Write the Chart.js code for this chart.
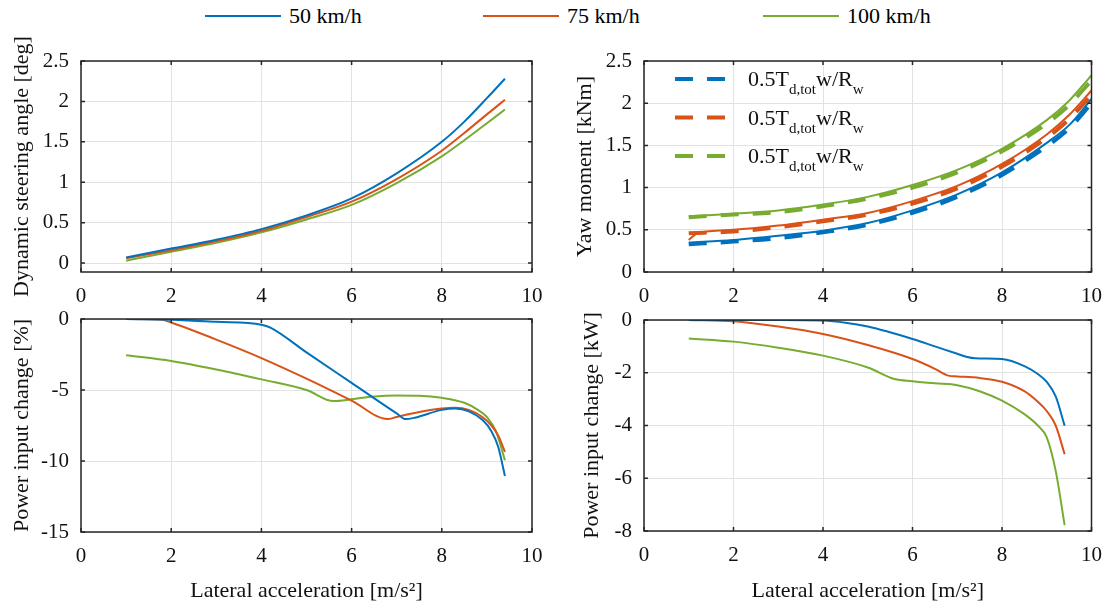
<!DOCTYPE html>
<html lang="en">
<head>
<meta charset="UTF-8">
<title>Lateral acceleration sweep</title>
<script src="https://cdn.jsdelivr.net/npm/chart.js@4"></script>
<style>
  html, body { margin: 0; padding: 0; background: #fff; }
  #wrap { position: relative; width: 1114px; height: 609px; overflow: hidden; font-family: "Liberation Serif", "Times New Roman", serif; }
  #wrap canvas { position: absolute; left: 0; top: 0; }
  .key { position: absolute; top: 3px; height: 26px; display: flex; align-items: center; font-size: 22px; color: #000; white-space: nowrap; font-family: "Liberation Serif", serif; }
  .key .swatch { display: inline-block; width: 76px; height: 2px; margin-right: 8px; }
</style>
</head>
<body>
<div id="wrap">
  <div id="keys"></div>
  <canvas id="steer" width="1114" height="609"></canvas>
  <canvas id="yaw" width="1114" height="609"></canvas>
  <canvas id="pct" width="1114" height="609"></canvas>
  <canvas id="kw" width="1114" height="609"></canvas>
</div>

<script>
  // series names / colours
  const speeds = ['50 km/h', '75 km/h', '100 km/h'];
  const colors = ['#0072BD', '#D95319', '#77AC30'];
  const keyLeft = [205, 483, 763];

  // shared x ticks (lateral acceleration, m/s^2)
  const xTicks = [0, 2, 4, 6, 8, 10];

  // dynamic steering angle [deg]
  const steerX = [1, 2, 3, 4, 5, 6, 7, 8, 8.5, 9, 9.4];
  const steer50 = [0.07, 0.18, 0.29, 0.42, 0.59, 0.80, 1.11, 1.50, 1.75, 2.04, 2.28];
  const steer75 = [0.06, 0.16, 0.27, 0.40, 0.57, 0.76, 1.04, 1.39, 1.61, 1.84, 2.02];
  const steer100 = [0.03, 0.14, 0.25, 0.38, 0.54, 0.72, 0.99, 1.32, 1.52, 1.73, 1.90];
  const steerTicks = [0, 0.5, 1, 1.5, 2, 2.5];

  // yaw moment [kNm], solid = simulated, dashed = 0.5 T_d,tot w / R_w
  const yawX = [1, 2, 3, 4, 5, 6, 7, 8, 9, 9.5, 10];
  const yawX75 = [1, 1.2, 2, 3, 4, 5, 6, 7, 8, 9, 9.5, 10];
  const yaw50 = [0.35, 0.38, 0.43, 0.49, 0.58, 0.73, 0.92, 1.18, 1.53, 1.74, 2.05];
  const yaw75 = [0.38, 0.46, 0.50, 0.55, 0.62, 0.70, 0.84, 1.02, 1.28, 1.63, 1.86, 2.15];
  const yaw100 = [0.66, 0.69, 0.73, 0.80, 0.89, 1.03, 1.21, 1.46, 1.80, 2.03, 2.33];
  const yawRef50 = [0.33, 0.36, 0.40, 0.47, 0.56, 0.70, 0.89, 1.15, 1.49, 1.70, 2.00];
  const yawRef75 = [0.46, 0.48, 0.53, 0.60, 0.68, 0.81, 0.99, 1.25, 1.59, 1.81, 2.10];
  const yawRef100 = [0.65, 0.68, 0.71, 0.78, 0.87, 1.00, 1.18, 1.43, 1.76, 1.98, 2.27];
  const yawTicks = [0, 0.5, 1, 1.5, 2, 2.5];
  const refLabel = [['0.5T', false], ['d,tot', true], ['w/R', false], ['w', true]];

  // power input change [%]
  const pctX50 = [1, 2, 3, 4, 4.2, 5, 6, 7, 7.2, 7.4, 8, 8.3, 8.6, 8.9, 9.1, 9.25, 9.4];
  const pct50 = [0, -0.05, -0.2, -0.4, -0.6, -2.35, -4.5, -6.65, -7.05, -6.95, -6.4, -6.3, -6.5, -7.1, -7.9, -9.0, -11.05];
  const pctX75 = [1, 1.8, 2, 3, 4, 5, 6, 6.8, 7, 7.5, 8, 8.3, 8.6, 8.9, 9.1, 9.25, 9.4];
  const pct75 = [0, -0.05, -0.25, -1.45, -2.75, -4.2, -5.75, -7.05, -6.9, -6.55, -6.3, -6.25, -6.4, -6.9, -7.5, -8.2, -9.35];
  const pctX100 = [1, 2, 3, 4, 5, 5.6, 6, 6.5, 7, 7.5, 8, 8.5, 8.8, 9, 9.2, 9.4];
  const pct100 = [-2.55, -2.95, -3.55, -4.25, -5.0, -5.78, -5.65, -5.45, -5.38, -5.4, -5.55, -5.9, -6.4, -6.9, -7.9, -9.95];
  const pctTicks = [-15, -10, -5, 0];

  // power input change [kW]
  const kwX50 = [1, 2, 3, 4, 4.5, 5, 6, 6.5, 7, 7.2, 7.4, 8, 8.5, 8.8, 9, 9.2, 9.4];
  const kw50 = [0, 0, 0, -0.02, -0.1, -0.25, -0.72, -1.0, -1.28, -1.39, -1.45, -1.48, -1.75, -2.05, -2.35, -2.9, -4.01];
  const kwX75 = [1, 2, 3, 4, 5, 6, 6.5, 6.8, 7, 7.5, 8, 8.5, 8.8, 9, 9.2, 9.4];
  const kw75 = [0, -0.05, -0.25, -0.53, -0.95, -1.48, -1.85, -2.11, -2.14, -2.2, -2.34, -2.7, -3.1, -3.45, -4.0, -5.09];
  const kwX100 = [1, 2, 3, 4, 5, 5.6, 6, 6.5, 7, 7.5, 8, 8.5, 8.8, 9, 9.2, 9.4];
  const kw100 = [-0.7, -0.82, -1.05, -1.35, -1.8, -2.24, -2.32, -2.4, -2.47, -2.7, -3.06, -3.57, -4.0, -4.45, -5.72, -7.78];
  const kwTicks = [-8, -6, -4, -2, 0];

  const W = 1114, H = 609;
  const FONT = '"Liberation Serif", "Times New Roman", serif';
  const INK = '#111';

  // top legend, one entry per speed
  document.getElementById('keys').innerHTML = speeds.map((s, i) =>
    `<div class="key" style="left:${keyLeft[i]}px"><span class="swatch" style="background:${colors[i]}"></span>${s}</div>`
  ).join('');

  const pts = (xs, ys) => xs.map((x, i) => ({ x, y: ys[i] }));

  const solid = (xs, ys, i) => ({
    data: pts(xs, ys), borderColor: colors[i], borderWidth: 2,
    pointRadius: 0, fill: false, cubicInterpolationMode: 'monotone'
  });

  const dashed = (xs, ys, i) => ({
    data: pts(xs, ys), borderColor: colors[i], borderWidth: 4, borderDash: [18, 14],
    pointRadius: 0, fill: false, cubicInterpolationMode: 'monotone', keyRow: i
  });

  // frame around the plot area with inward tick marks
  const boxPlugin = {
    id: 'box',
    afterDraw(chart) {
      const { ctx, chartArea: a, scales: { x, y } } = chart;
      ctx.save();
      ctx.strokeStyle = '#262626';
      ctx.lineWidth = 1.5;
      ctx.beginPath();
      x.ticks.forEach(t => {
        const px = x.getPixelForValue(t.value);
        ctx.moveTo(px, a.bottom); ctx.lineTo(px, a.bottom - 4);
        ctx.moveTo(px, a.top); ctx.lineTo(px, a.top + 4);
      });
      y.ticks.forEach(t => {
        const py = y.getPixelForValue(t.value);
        ctx.moveTo(a.left, py); ctx.lineTo(a.left + 4, py);
        ctx.moveTo(a.right, py); ctx.lineTo(a.right - 4, py);
      });
      ctx.stroke();
      ctx.strokeRect(a.left, a.top, a.right - a.left, a.bottom - a.top);
      ctx.restore();
    }
  };

  // in-plot legend for the dashed reference curves
  const yawKey = {
    id: 'yawKey',
    afterDatasetsDraw(chart) {
      const { ctx, chartArea: a } = chart;
      chart.data.datasets.filter(d => d.keyRow !== undefined).forEach(d => {
        const y = a.top + 18 + d.keyRow * 38.5;
        const x0 = a.left + 31;
        ctx.save();
        ctx.strokeStyle = d.borderColor;
        ctx.lineWidth = d.borderWidth;
        ctx.setLineDash(d.borderDash);
        ctx.beginPath();
        ctx.moveTo(x0, y);
        ctx.lineTo(x0 + 51, y);
        ctx.stroke();
        ctx.setLineDash([]);
        ctx.fillStyle = INK;
        ctx.textBaseline = 'alphabetic';
        let x = a.left + 104;
        const base = y + 7;
        refLabel.forEach(([txt, sub]) => {
          ctx.font = (sub ? '15px ' : '22px ') + FONT;
          ctx.fillText(txt, x, sub ? base + 8 : base);
          x += ctx.measureText(txt).width;
        });
        ctx.restore();
      });
    }
  };

  function panel(id, p) {
    const padLeft = p.titleX - 13;
    const xAxisH = p.xTitle ? H - p.bottom : 40;
    const tickFont = { family: FONT, size: 21 };
    const titleFont = { family: FONT, size: 22 };
    const grid = { color: '#e2e2e2', lineWidth: 1, drawTicks: false };

    return new Chart(document.getElementById(id), {
      type: 'line',
      data: { datasets: p.datasets },
      options: {
        responsive: false,
        animation: false,
        events: [],
        layout: {
          padding: { left: padLeft, top: p.top, right: W - p.right, bottom: H - p.bottom - xAxisH }
        },
        plugins: { legend: { display: false }, tooltip: { enabled: false } },
        scales: {
          x: {
            type: 'linear', min: 0, max: 10,
            afterBuildTicks: s => { s.ticks = xTicks.map(v => ({ value: v })); },
            afterFit: s => { s.height = xAxisH; },
            grid, border: { display: false },
            ticks: { font: tickFont, color: INK, padding: 12, maxRotation: 0, autoSkip: false, callback: v => String(v) },
            title: { display: !!p.xTitle, text: p.xTitle || '', font: titleFont, color: INK, padding: { top: 0, bottom: 5 } }
          },
          y: {
            type: 'linear', min: p.yMin, max: p.yMax,
            afterBuildTicks: s => { s.ticks = p.yTicks.map(v => ({ value: v })); },
            afterFit: s => { s.width = p.left - padLeft; },
            grid, border: { display: false },
            ticks: { font: tickFont, color: INK, padding: 12, autoSkip: false, callback: v => String(v) },
            title: { display: true, text: p.yTitle, font: titleFont, color: INK, padding: 0 }
          }
        }
      },
      plugins: [boxPlugin].concat(p.extra || [])
    });
  }

  const xLabel = 'Lateral acceleration [m/s²]';

  panel('steer', {
    left: 81, right: 532, top: 61, bottom: 272, titleX: 22,
    yMin: -0.11, yMax: 2.5, yTicks: steerTicks, yTitle: 'Dynamic steering angle [deg]',
    datasets: [solid(steerX, steer50, 0), solid(steerX, steer75, 1), solid(steerX, steer100, 2)]
  });

  panel('yaw', {
    left: 644, right: 1096, top: 61, bottom: 272, titleX: 585,
    yMin: 0, yMax: 2.5, yTicks: yawTicks, yTitle: 'Yaw moment [kNm]',
    datasets: [
      dashed(yawX, yawRef50, 0), dashed(yawX, yawRef75, 1), dashed(yawX, yawRef100, 2),
      solid(yawX, yaw50, 0), solid(yawX75, yaw75, 1), solid(yawX, yaw100, 2)
    ],
    extra: [yawKey]
  });

  panel('pct', {
    left: 81, right: 532, top: 319, bottom: 532, titleX: 22, xTitle: xLabel,
    yMin: -15, yMax: 0, yTicks: pctTicks, yTitle: 'Power input change [%]',
    datasets: [solid(pctX50, pct50, 0), solid(pctX75, pct75, 1), solid(pctX100, pct100, 2)]
  });

  panel('kw', {
    left: 644, right: 1096, top: 320, bottom: 531, titleX: 592, xTitle: xLabel,
    yMin: -8, yMax: 0, yTicks: kwTicks, yTitle: 'Power input change [kW]',
    datasets: [solid(kwX50, kw50, 0), solid(kwX75, kw75, 1), solid(kwX100, kw100, 2)]
  });
</script>
</body>
</html>
